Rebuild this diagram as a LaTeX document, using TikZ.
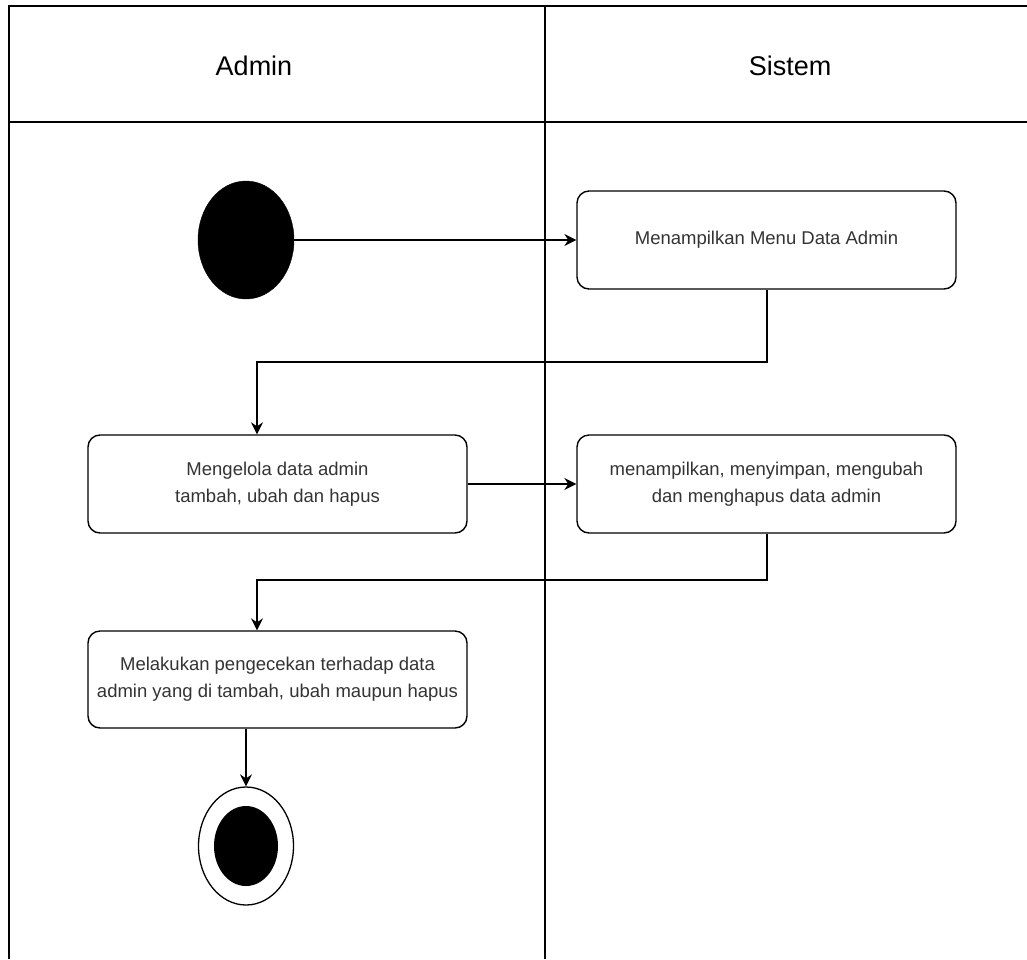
\documentclass[tikz,border=0pt]{standalone}
\usepackage{fontspec}
\setmainfont{Liberation Sans}
\usetikzlibrary{shapes.geometric,arrows.meta}
\definecolor{txt}{HTML}{333333}
\tikzset{
  act/.style={draw=black, line width=1.4pt, rounded corners=12pt, minimum width=379pt, minimum height=98pt, inner sep=0pt, align=center, text=txt, font=\fontsize{18.5}{27}\selectfont},
  lane/.style={draw=black, line width=1.6pt},
  conn/.style={draw=black, line width=1.4pt, -{Stealth[length=12pt,width=12pt,inset=4pt]}},
  hdr/.style={inner sep=0pt, font=\fontsize{27}{32}\selectfont, text=black},
  startst/.style={ellipse, fill=black, draw=black, minimum width=96pt, minimum height=118pt, inner sep=0pt},
  endouter/.style={ellipse, fill=white, draw=black, line width=1.3pt, minimum width=95pt, minimum height=118pt, inner sep=0pt},
  endinner/.style={ellipse, fill=black, minimum width=64pt, minimum height=80pt, inner sep=0pt}
}
\begin{document}
\begin{tikzpicture}[x=1pt,y=-1pt]
\useasboundingbox (0,0) rectangle (1027,959);
% swimlane frame
\draw[lane] (1027,6) -- (9,6) -- (9,959);
\draw[lane] (9,122) -- (1027,122);
\draw[lane] (545,6) -- (545,959);
\node[hdr] (hadmin) at (254,66) {Admin};
\node[hdr] (hsistem) at (790,66) {Sistem};
% nodes
\node[startst] (start) at (246,240) {};
\node[act] (a1) at (766.5,240) {Menampilkan Menu Data Admin};
\node[act] (a2) at (277.5,484) {Mengelola data admin\\tambah, ubah dan hapus};
\node[act] (a3) at (766.5,484) {menampilkan, menyimpan, mengubah\\dan menghapus data admin};
\node[act, minimum height=97pt] (a4) at (277.5,679.5) {Melakukan pengecekan terhadap data\\admin yang di tambah, ubah maupun hapus};
\node[endouter] (endo) at (246,846) {};
\node[endinner] (endi) at (246,846) {};
% connectors
\draw[conn] (start.east) -- (a1.west);
\coordinate (c1) at (767,362);
\coordinate (c2) at (257,362);
\draw[conn] (a1.south -| c1) -- (c1) -- (c2) -- (c2 |- a2.north);
\draw[conn] (a2.east) -- (a3.west);
\coordinate (c3) at (767,580);
\coordinate (c4) at (257,580);
\draw[conn] (a3.south -| c3) -- (c3) -- (c4) -- (c4 |- a4.north);
\draw[conn] (a4.south -| endo.north) -- (endo.north);
\end{tikzpicture}
\end{document}
